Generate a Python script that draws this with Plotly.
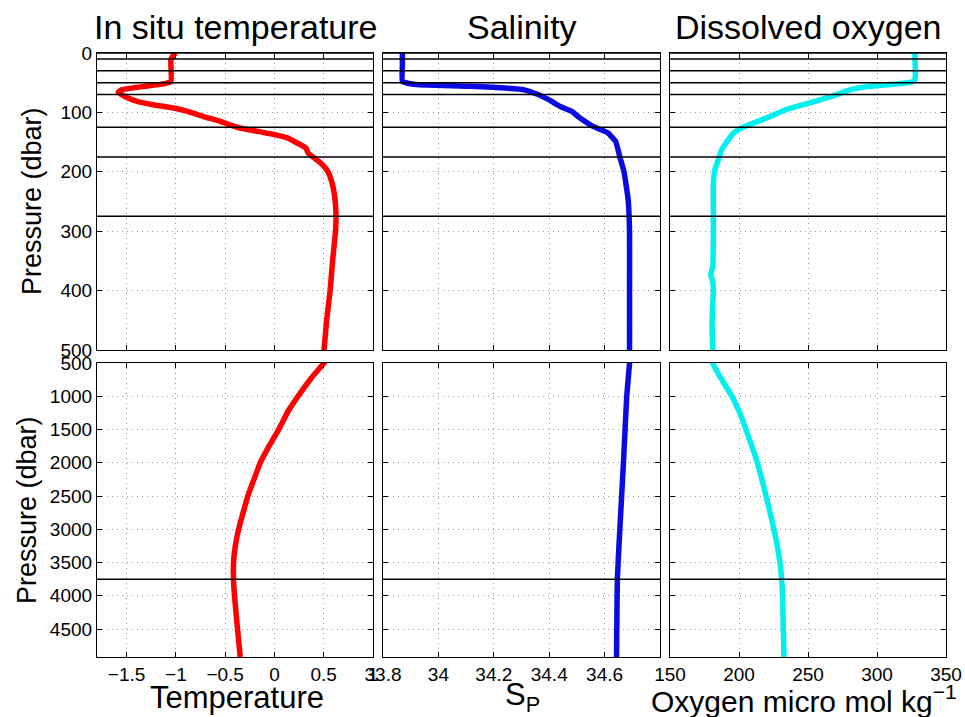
import plotly.graph_objects as go

# ---------------- data ----------------
temp_p = [0, 3, 11, 48, 52, 57, 62, 66, 70, 76, 81, 87, 93, 98, 107, 115, 125, 132, 137.5,
          143, 151.5, 160, 168, 175, 185, 199, 219, 247, 275, 300, 350, 400, 450, 500,
          706, 956, 1207, 1497, 1758, 1999, 2259, 2500, 2760, 3001, 3262, 3503, 3748,
          4004, 4504, 4920]
temp = [-1.0, -1.02, -1.05, -1.05, -1.13, -1.36, -1.55, -1.585, -1.55, -1.48, -1.40, -1.23,
        -1.01, -0.89, -0.72, -0.55, -0.38, -0.17, 0.0, 0.13, 0.23, 0.32, 0.34, 0.39, 0.47,
        0.54, 0.585, 0.615, 0.625, 0.62, 0.59, 0.565, 0.53, 0.503, 0.385, 0.26, 0.146,
        0.044, -0.058, -0.143, -0.21, -0.27, -0.32, -0.364, -0.398, -0.415, -0.415,
        -0.405, -0.374, -0.347]

sal_p = [0, 20, 48, 51, 53, 56, 59, 62, 70, 79, 90, 98, 109, 124, 134, 149, 175, 200, 247,
         300, 400, 500, 1000, 2000, 3000, 3750, 4500, 4920]
sal = [33.87, 33.87, 33.87, 33.89, 33.92, 34.12, 34.24, 34.31, 34.36, 34.40, 34.44, 34.48,
       34.51, 34.56, 34.61, 34.64, 34.655, 34.67, 34.685, 34.69, 34.69, 34.69, 34.68,
       34.668, 34.655, 34.646, 34.644, 34.643]

oxy_p = [0, 3, 45, 49, 52, 56, 62, 70, 79, 87, 95, 107, 118, 126, 135, 146, 163, 175, 196,
         219, 275, 300, 360, 373, 385, 400, 450, 500, 706, 996, 1257, 1497, 1999, 2500,
         3001, 3503, 3748, 4004, 4504, 4920]
oxy = [327.5, 327.5, 327.5, 325, 314, 295, 280.4, 270.8, 258.7, 246.6, 234.5, 222.5, 210.4,
       202, 195.9, 192.3, 187.4, 185.7, 182.6, 181.4, 181.4, 181.4, 181, 179.5, 181, 181.4,
       180.5, 181, 186.2, 194.7, 200.7, 205, 213.3, 219.6, 225.3, 229.7, 230.9, 231.6,
       232.1, 232.6]

layer_p = [0, 10, 30, 50, 70, 125, 175, 275, 3750]

titles = ["In situ temperature", "Salinity", "Dissolved oxygen"]
xlabels = ["Temperature", "S<sub>P</sub>", "Oxygen micro mol kg<sup>\u22121</sup>"]
ylabel = "Pressure (dbar)"

temp_ticks = [-1.5, -1, -0.5, 0, 0.5, 1]
sal_ticks = [33.8, 34, 34.2, 34.4, 34.6]
oxy_ticks = [150, 200, 250, 300, 350]
top_yticks = [0, 100, 200, 300, 400, 500]
bot_yticks = [500, 1000, 1500, 2000, 2500, 3000, 3500, 4000, 4500]

x_ranges = [[-1.8, 1.0], [33.8, 34.8], [150, 350]]
top_range = [500, 0]
bot_range = [4920, 500]

colors = ["rgb(255,0,0)", "rgb(10,10,225)", "rgb(0,240,240)"]
profiles = [(temp, temp_p), (sal, sal_p), (oxy, oxy_p)]
xticks = [temp_ticks, sal_ticks, oxy_ticks]

# ---------------- layout geometry ----------------
W, H = 965, 717
col_px = [(97, 373), (383, 660), (670, 946)]
row_px = [(53, 350), (363, 657)]  # top panel, bottom panel (pixels from top)

def xdom(a, b):
    return [a / W, b / W]

def ydom(a, b):
    return [1 - b / H, 1 - a / H]

FONT = "Liberation Sans, Arial, Helvetica, sans-serif"

fig = go.Figure()
layout = dict(width=W, height=H, margin=dict(l=0, r=0, t=0, b=0, autoexpand=False),
              paper_bgcolor="white", plot_bgcolor="white", showlegend=False,
              font=dict(family=FONT, color="black"))

axis_common = dict(showline=True, linecolor="black", linewidth=1.2, mirror="ticks",
                   ticks="inside", ticklen=5, tickcolor="black", tickwidth=1,
                   showgrid=True, gridcolor="#9a9a9a", griddash="1px,4px", gridwidth=1,
                   zeroline=False, automargin=False,
                   tickfont=dict(size=19, color="black", family=FONT))

shapes = []
idx = 0
for r in range(2):
    for c in range(3):
        idx += 1
        sfx = "" if idx == 1 else str(idx)
        vals, pres = profiles[c]
        fig.add_trace(go.Scatter(x=vals, y=pres, mode="lines",
                                 line=dict(color=colors[c], width=5.5, shape="spline",
                                           smoothing=0.4),
                                 xaxis="x" + sfx, yaxis="y" + sfx, hoverinfo="skip"))
        xa = dict(axis_common, domain=xdom(*col_px[c]), range=x_ranges[c],
                  tickvals=xticks[c], anchor="y" + sfx,
                  showticklabels=(r == 1))
        ya = dict(axis_common, domain=ydom(*row_px[r]),
                  range=top_range if r == 0 else bot_range,
                  tickvals=top_yticks if r == 0 else bot_yticks,
                  anchor="x" + sfx, showticklabels=(c == 0))
        layout["xaxis" + sfx] = xa
        layout["yaxis" + sfx] = ya
        lo, hi = (0, 500) if r == 0 else (500, 4920)
        for p in layer_p:
            if lo <= p <= hi and not (r == 1 and p == 500):
                shapes.append(dict(type="line", xref="x" + sfx + " domain", x0=0, x1=1,
                                   yref="y" + sfx, y0=p, y1=p,
                                   line=dict(color="black", width=1.5)))

layout["shapes"] = shapes

annotations = []
title_cx = [(a + b) / 2 for a, b in col_px]
for c in range(3):
    annotations.append(dict(text=titles[c], x=title_cx[c] / W, y=1 - 27 / H,
                            xref="paper", yref="paper", showarrow=False,
                            xanchor="center", yanchor="middle",
                            font=dict(size=34, color="black", family=FONT)))
xl_pos = [(237, 697, 31), (522, 697, 31), (804, 699, 30)]
for c in range(3):
    annotations.append(dict(text=xlabels[c], x=xl_pos[c][0] / W, y=1 - xl_pos[c][1] / H,
                            xref="paper", yref="paper", showarrow=False,
                            xanchor="center", yanchor="middle",
                            font=dict(size=xl_pos[c][2], color="black", family=FONT)))
for (cx, cy) in [(32, 201), (27, 510)]:
    annotations.append(dict(text=ylabel, x=cx / W, y=1 - cy / H, xref="paper", yref="paper",
                            showarrow=False, textangle=-90, xanchor="center",
                            yanchor="middle",
                            font=dict(size=27, color="black", family=FONT)))
layout["annotations"] = annotations

fig.update_layout(**layout)
fig.write_html("out.html")
